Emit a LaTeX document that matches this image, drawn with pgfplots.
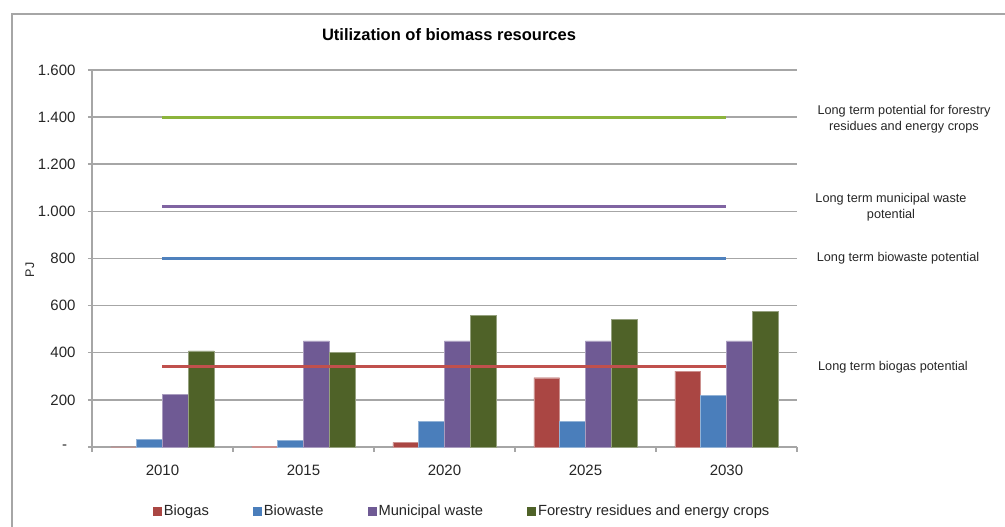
\documentclass[border=0pt]{standalone}
\usepackage{pgfplots}
\pgfplotsset{compat=1.18}
\usepackage{fontspec}
\setmainfont{Liberation Sans}
\definecolor{cBiogas}{HTML}{AA4643}
\definecolor{cBiowaste}{HTML}{4A7EBB}
\definecolor{cMuni}{HTML}{6F5A94}
\definecolor{cForest}{HTML}{4F6228}
\definecolor{lGreen}{HTML}{8CB43C}
\definecolor{lPurple}{HTML}{8064A2}
\definecolor{lBlue}{HTML}{4F81BD}
\definecolor{lRed}{HTML}{C0504D}
\definecolor{gridc}{HTML}{A6A6A6}
\begin{document}
\begin{tikzpicture}[x=1pt,y=1pt]
\useasboundingbox (-92,-80) rectangle (913,447);
\draw[gridc, line width=1.5pt] (-80,-82) -- (-80,433) -- (915,433);
\begin{axis}[
  at={(0,0)}, anchor=south west,
  scale only axis, width=705pt, height=377pt,
  xmin=-0.5, xmax=4.5, ymin=0, ymax=1600,
  axis x line*=bottom, axis y line*=left,
  axis line style={gridc, line width=1.5pt},
  ymajorgrids, grid style={gridc, line width=1.5pt},
  tick align=outside,
  xtick={0,1,2,3,4}, xticklabels={2010,2015,2020,2025,2030},
  major x tick style={draw=none},
  minor xtick={-0.5,0.5,1.5,2.5,3.5,4.5},
  minor tick length=5pt,
  minor x tick style={gridc, line width=1.5pt},
  ytick={0,200,400,600,800,1000,1200,1400,1600},
  yticklabels={-\hphantom{0},200,400,600,800,1.000,1.200,1.400,1.600},
  major tick length=4pt,
  y tick style={gridc, line width=1.5pt},
  ticklabel style={font=\fontsize{15}{18}\selectfont, text=black!85},
  xticklabel style={yshift=-10pt},
  yticklabel style={xshift=-9pt},
  clip=false,
  legend style={at={(axis description cs:0.525,-0.17)}, anchor=center, draw=none,
    font=\fontsize{14.7}{17}\selectfont, legend columns=4, text=black!85,
    /tikz/every even column/.append style={column sep=42pt}},
  legend image code/.code={\fill[#1,draw=none] (0pt,-4.5pt) rectangle (9pt,4.5pt);},
]
\addplot[ybar, bar width=0.183, bar shift=-0.2745, fill=cBiogas, draw=cBiogas!60!white, line width=0.4pt]
  coordinates {(0,0) (1,3) (2,20) (3,294) (4,322)};
\addlegendentry{Biogas}
\addplot[ybar, bar width=0.183, bar shift=-0.0915, fill=cBiowaste, draw=cBiowaste!60!white, line width=0.4pt]
  coordinates {(0,33) (1,28) (2,110) (3,110) (4,220)};
\addlegendentry{Biowaste}
\addplot[ybar, bar width=0.183, bar shift=0.0915, fill=cMuni, draw=cMuni!60!white, line width=0.4pt]
  coordinates {(0,222) (1,450) (2,450) (3,450) (4,450)};
\addlegendentry{Municipal waste}
\addplot[ybar, bar width=0.183, bar shift=0.2745, fill=cForest, draw=cForest!60!white, line width=0.4pt]
  coordinates {(0,408) (1,403) (2,560) (3,542) (4,575)};
\addlegendentry{Forestry residues and energy crops}
\addplot[lGreen, line width=3pt, no markers, forget plot] coordinates {(0,1400) (4,1400)};
\addplot[lPurple, line width=3pt, no markers, forget plot] coordinates {(0,1020) (4,1020)};
\addplot[lBlue, line width=3pt, no markers, forget plot] coordinates {(0,800) (4,800)};
\addplot[lRed, line width=3pt, no markers, forget plot] coordinates {(0,340) (4,340)};
\end{axis}
\node[font=\bfseries\fontsize{16.5}{20}\selectfont] at (357,412) {Utilization of biomass resources};
\node[rotate=90, font=\fontsize{12.5}{14}\selectfont, text=black!85] at (-62,177) {PJ};
\begin{scope}[every node/.style={align=center, font=\fontsize{12.7}{16}\selectfont, text=black!85}]
\node at (812,328) {Long term potential for forestry\\residues and energy crops};
\node at (799,240) {Long term municipal waste\\potential};
\node at (806,189) {Long term biowaste potential};
\node at (801,80) {Long term biogas potential};
\end{scope}
\end{tikzpicture}
\end{document}
